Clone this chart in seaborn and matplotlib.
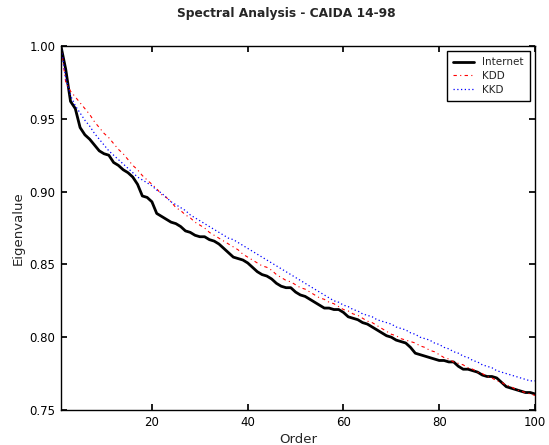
import numpy as np
import pandas as pd
import seaborn as sns
import matplotlib
matplotlib.use("Agg")
import matplotlib.pyplot as plt

order = list(range(1, 101))

internet = [
    1.000, 0.984, 0.962, 0.957, 0.944, 0.939, 0.936, 0.932, 0.928, 0.926,
    0.925, 0.920, 0.918, 0.915, 0.913, 0.910, 0.905, 0.897, 0.896, 0.893,
    0.885, 0.883, 0.881, 0.879, 0.878, 0.876, 0.873, 0.872, 0.870, 0.869,
    0.869, 0.867, 0.866, 0.864, 0.861, 0.858, 0.855, 0.854, 0.853, 0.851,
    0.848, 0.845, 0.843, 0.842, 0.840, 0.837, 0.835, 0.834, 0.834, 0.831,
    0.829, 0.828, 0.826, 0.824, 0.822, 0.820, 0.820, 0.819, 0.819, 0.817,
    0.814, 0.813, 0.812, 0.810, 0.809, 0.807, 0.805, 0.803, 0.801, 0.800,
    0.798, 0.797, 0.796, 0.793, 0.789, 0.788, 0.787, 0.786, 0.785, 0.784,
    0.784, 0.783, 0.783, 0.780, 0.778, 0.778, 0.777, 0.776, 0.774, 0.773,
    0.773, 0.772, 0.769, 0.766, 0.765, 0.764, 0.763, 0.762, 0.762, 0.761,
]

kdd = [
    1.000, 0.975, 0.969, 0.965, 0.961, 0.957, 0.953, 0.948, 0.944, 0.940,
    0.937, 0.933, 0.929, 0.926, 0.922, 0.918, 0.915, 0.911, 0.908, 0.905,
    0.902, 0.898, 0.896, 0.893, 0.889, 0.887, 0.884, 0.882, 0.879, 0.877,
    0.875, 0.872, 0.870, 0.868, 0.866, 0.864, 0.862, 0.860, 0.857, 0.855,
    0.853, 0.851, 0.849, 0.848, 0.846, 0.843, 0.841, 0.839, 0.838, 0.836,
    0.834, 0.833, 0.831, 0.829, 0.827, 0.826, 0.824, 0.823, 0.821, 0.819,
    0.818, 0.816, 0.815, 0.813, 0.811, 0.810, 0.808, 0.806, 0.804, 0.802,
    0.801, 0.799, 0.798, 0.797, 0.796, 0.794, 0.793, 0.791, 0.790, 0.788,
    0.786, 0.785, 0.783, 0.782, 0.781, 0.779, 0.778, 0.776, 0.775, 0.773,
    0.772, 0.770, 0.769, 0.767, 0.766, 0.764, 0.763, 0.762, 0.761, 0.760,
]

kkd = [
    1.000, 0.978, 0.966, 0.959, 0.954, 0.949, 0.945, 0.940, 0.936, 0.932,
    0.928, 0.925, 0.922, 0.919, 0.916, 0.913, 0.910, 0.908, 0.906, 0.904,
    0.901, 0.899, 0.896, 0.893, 0.891, 0.889, 0.887, 0.884, 0.882, 0.880,
    0.878, 0.876, 0.874, 0.872, 0.870, 0.868, 0.867, 0.865, 0.863, 0.861,
    0.859, 0.857, 0.855, 0.853, 0.851, 0.849, 0.847, 0.845, 0.843, 0.841,
    0.839, 0.837, 0.835, 0.833, 0.831, 0.829, 0.827, 0.825, 0.824, 0.822,
    0.821, 0.819, 0.818, 0.816, 0.815, 0.814, 0.812, 0.811, 0.810, 0.809,
    0.807, 0.806, 0.805, 0.803, 0.802, 0.800, 0.799, 0.798, 0.796, 0.795,
    0.793, 0.792, 0.790, 0.789, 0.787, 0.786, 0.784, 0.783, 0.781, 0.780,
    0.779, 0.777, 0.776, 0.775, 0.774, 0.773, 0.772, 0.771, 0.770, 0.770,
]

x_ticks = [20, 40, 60, 80, 100]
y_ticks = [0.75, 0.80, 0.85, 0.90, 0.95, 1.00]

sns.set_theme(style="ticks")
plt.rcParams["font.family"] = ["DejaVu Sans"]
plt.rcParams.update({
    "xtick.direction": "in",
    "ytick.direction": "in",
    "xtick.top": True,
    "ytick.right": True,
    "xtick.major.size": 4,
    "ytick.major.size": 4,
    "axes.linewidth": 1.0,
    "axes.edgecolor": "black",
})

fig = plt.figure(figsize=(5.49, 4.45), dpi=100)
ax = fig.add_axes([0.111, 0.0787, 0.8635, 0.8179])

sns.lineplot(x=order, y=internet, ax=ax, color="black", linewidth=2, label="Internet")
sns.lineplot(x=order, y=kdd, ax=ax, color="red", linewidth=0.8,
             linestyle=(0, (3, 3, 1, 3)), label="KDD")
sns.lineplot(x=order, y=kkd, ax=ax, color="blue", linewidth=0.9,
             linestyle=(0, (1, 2)), label="KKD")

ax.set_xlim(1, 100)
ax.set_ylim(0.75, 1.00)
ax.set_xticks(x_ticks)
ax.set_yticks(y_ticks)
ax.set_yticklabels([f"{v:.2f}" for v in y_ticks])
ax.tick_params(labelsize=8.5, colors="black", pad=4)
ax.set_xlabel("Order", fontsize=9.5, labelpad=3)
ax.set_ylabel("Eigenvalue", fontsize=9.5, labelpad=3)
ax.set_title("Spectral Analysis - CAIDA 14-98", fontsize=8.8, fontweight="bold",
             pad=21, x=0.475)

leg = ax.legend(loc="upper right", fontsize=7.5, frameon=True, fancybox=False,
                handlelength=2.0, borderpad=0.6, labelspacing=0.35)
leg.get_frame().set_edgecolor("black")
leg.get_frame().set_linewidth(1.0)
leg.get_frame().set_alpha(1.0)

fig.savefig("out.png", dpi=100)
